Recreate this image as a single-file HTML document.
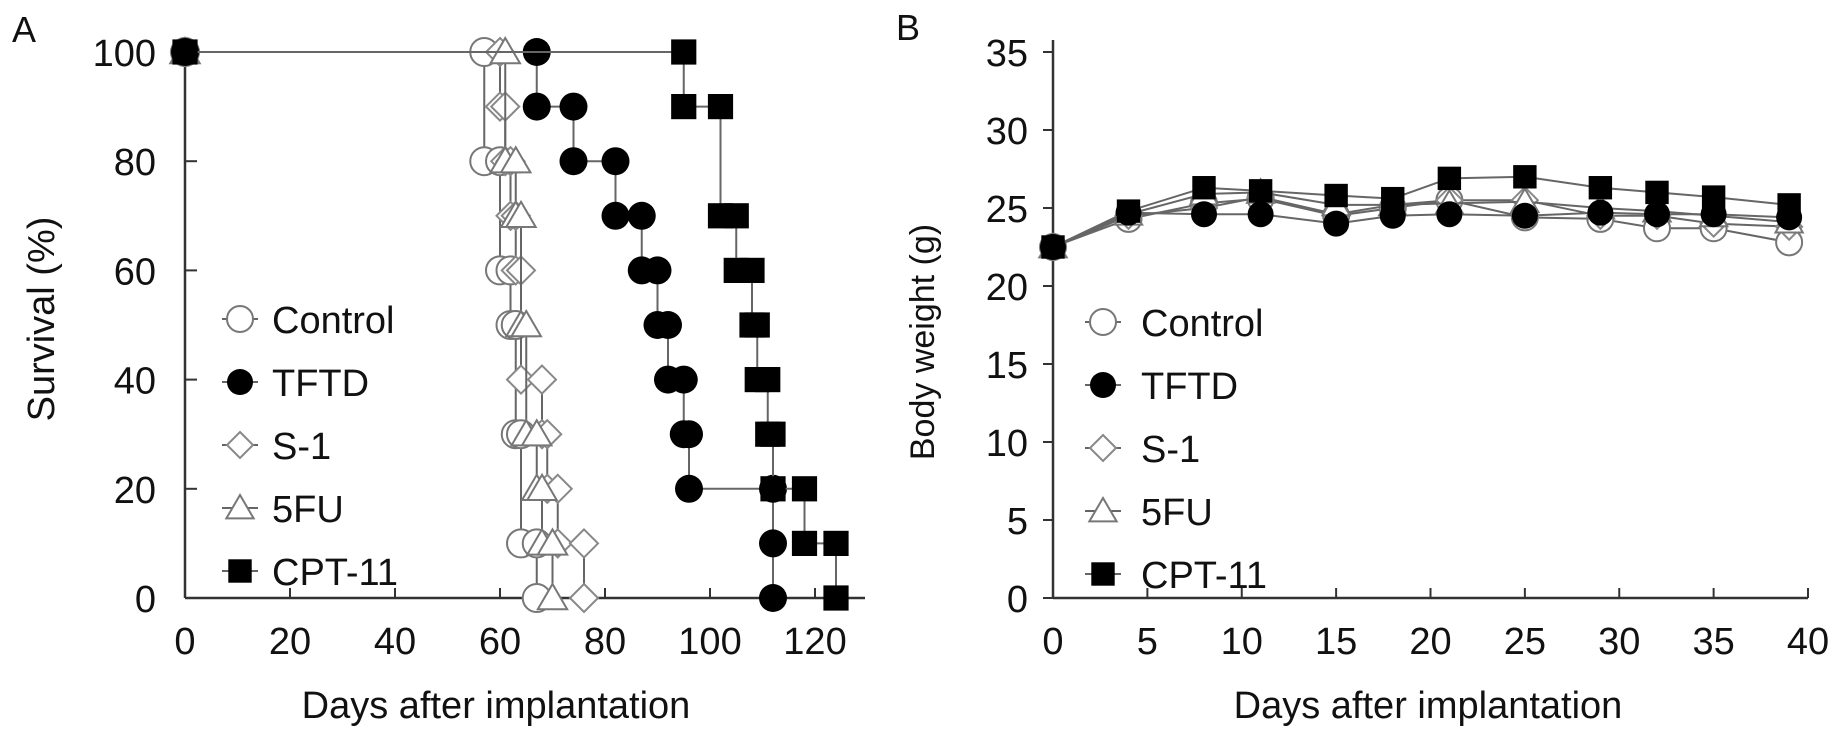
<!DOCTYPE html>
<html><head><meta charset="utf-8">
<style>
html,body{margin:0;padding:0;background:#fff;}
svg{display:block;font-family:"Liberation Sans",Arial,sans-serif;}
</style></head>
<body>
<svg id="fig" width="1842" height="736" viewBox="0 0 1842 736"></svg>
<script>
// ---- Panel A data (Kaplan-Meier corners: day, survival %) ----
const survControl = [[0,100],[57,100],[57,80],[60,80],[60,60],[62,60],[62,50],[63,50],[63,30],[64,30],[64,10],[67,10],[67,0]];
const survTFTD = [[0,100],[67,100],[67,90],[74,90],[74,80],[82,80],[82,70],[87,70],[87,60],[90,60],[90,50],[92,50],[92,40],[95,40],[95,30],[96,30],[96,20],[112,20],[112,10],[112,0]];
const survS1 = [[0,100],[60,100],[60,90],[61,90],[61,80],[62,80],[62,70],[63,70],[63,60],[64,60],[64,40],[68,40],[68,30],[69,30],[69,20],[71,20],[71,10],[76,10],[76,0]];
const surv5FU = [[0,100],[61,100],[61,80],[63,80],[63,70],[64,70],[64,50],[65,50],[65,30],[67,30],[67,20],[68,20],[68,10],[70,10],[70,0]];
const survCPT = [[0,100],[95,100],[95,90],[102,90],[102,70],[105,70],[105,60],[108,60],[108,50],[109,50],[109,40],[111,40],[111,30],[112,30],[112,20],[118,20],[118,10],[124,10],[124,0]];
const xTicksA = [0,20,40,60,80,100,120];
const yTicksA = [0,20,40,60,80,100];
// ---- Panel B data ----
const daysB = [0,4,8,11,15,18,21,25,29,32,35,39];
const bwControl = [22.5,24.3,25.3,25.6,24.5,25.0,25.5,24.4,24.3,23.7,23.7,22.8];
const bwTFTD = [22.5,24.7,24.6,24.6,24.0,24.5,24.6,24.5,24.7,24.6,24.6,24.4];
const bwS1 = [22.5,24.5,25.0,25.7,24.6,25.2,25.5,25.5,24.5,24.5,24.0,23.8];
const bw5FU = [22.5,24.6,25.9,26.0,25.2,25.2,25.3,25.4,25.0,24.8,24.5,24.1];
const bwCPT = [22.5,24.8,26.3,26.1,25.8,25.6,26.9,27.0,26.3,26.0,25.7,25.2];
const xTicksB = [0,5,10,15,20,25,30,35,40];
const yTicksB = [0,5,10,15,20,25,30,35];
const legendLabels = ["Control","TFTD","S-1","5FU","CPT-11"];
const legendKinds = ["circle","dot","diamond","triangle","square"];

const NS="http://www.w3.org/2000/svg";
const svg=document.getElementById('fig');
const FS=38;
function el(tag,attrs,parent){const e=document.createElementNS(NS,tag);for(const k in attrs)e.setAttribute(k,attrs[k]);(parent||svg).appendChild(e);return e;}
function txt(s,x,y,size,anchor,parent,rot){const t=el('text',{x:x,y:y,'font-size':size,'text-anchor':anchor||'middle',fill:'#111'},parent);if(rot)t.setAttribute('transform',`rotate(-90 ${x} ${y})`);t.textContent=s;return t;}

const xA=d=>185+d*5.25;
const yA=v=>598-v*5.46;
const xB=d=>1053+d*(1808-1053)/40;
const yB=v=>598-v*(598-52)/35;

function marker(kind,x,y,r,parent){
  if(kind==='circle')return el('circle',{cx:x,cy:y,r:r,fill:'#fff',stroke:'#777','stroke-width':2},parent);
  if(kind==='dot')return el('circle',{cx:x,cy:y,r:r,fill:'#000'},parent);
  if(kind==='diamond')return el('polygon',{points:`${x},${y-r} ${x+r},${y} ${x},${y+r} ${x-r},${y}`,fill:'#fff',stroke:'#888','stroke-width':2},parent);
  if(kind==='triangle')return el('polygon',{points:`${x},${y-r} ${x+r*1.05},${y+r*0.8} ${x-r*1.05},${y+r*0.8}`,fill:'#fff',stroke:'#777','stroke-width':2},parent);
  return el('rect',{x:x-r*0.9,y:y-r*0.9,width:r*1.8,height:r*1.8,fill:'#000'},parent);
}

// ===== Panel A =====
const gA=el('g',{});


txt('A',24,42,36,'middle',gA);
el('line',{x1:185,y1:40,x2:185,y2:598,stroke:'#333','stroke-width':2.5},gA);
el('line',{x1:185,y1:598,x2:865,y2:598,stroke:'#333','stroke-width':2.5},gA);
xTicksA.forEach(t=>{el('line',{x1:xA(t),y1:598,x2:xA(t),y2:588,stroke:'#333','stroke-width':2},gA);const l=txt(String(t),xA(t),654,FS,'middle',gA);});
yTicksA.forEach(t=>{el('line',{x1:185,y1:yA(t),x2:197,y2:yA(t),stroke:'#333','stroke-width':2},gA);const l=txt(String(t),156,yA(t)+14,FS,'end',gA);});
txt('Survival (%)',54,319,FS,'middle',gA,true);
txt('Days after implantation',496,718,FS,'middle',gA);
const seriesA=[[survControl,'circle','series-control'],[survS1,'diamond','series-s1'],[surv5FU,'triangle','series-5fu'],[survTFTD,'dot','series-tftd'],[survCPT,'square','series-cpt11']];
seriesA.forEach(([data,kind,name])=>{
  const g=el('g',{},gA);
  
  
  el('polyline',{points:data.map(p=>xA(p[0])+','+yA(p[1])).join(' '),fill:'none',stroke:'#666','stroke-width':2},g);
  data.forEach((p,i)=>{marker(kind,xA(p[0]),yA(p[1]),14,g);});
});
legendLabels.forEach((lab,i)=>{
  const g=el('g',{},gA);
  
  
  const y=319+i*63;
  el('line',{x1:222,y1:y,x2:258,y2:y,stroke:'#666','stroke-width':2},g);
  marker(legendKinds[i],240,y,13,g);
  txt(lab,272,y+14,FS,'start',g);
});

// ===== Panel B =====
const gB=el('g',{});


txt('B',908,40,36,'middle',gB);
el('line',{x1:1053,y1:40,x2:1053,y2:598,stroke:'#333','stroke-width':2.5},gB);
el('line',{x1:1053,y1:598,x2:1808,y2:598,stroke:'#333','stroke-width':2.5},gB);
xTicksB.forEach(t=>{el('line',{x1:xB(t),y1:598,x2:xB(t),y2:588,stroke:'#333','stroke-width':2},gB);const l=txt(String(t),xB(t),654,FS,'middle',gB);});
yTicksB.forEach(t=>{el('line',{x1:1053,y1:yB(t),x2:1043,y2:yB(t),stroke:'#333','stroke-width':2},gB);const l=txt(String(t),1028,yB(t)+14,FS,'end',gB);});
txt('Body weight (g)',934,342,34,'middle',gB,true);
txt('Days after implantation',1428,718,FS,'middle',gB);
const seriesB=[[bwControl,'circle','series-control'],[bwS1,'diamond','series-s1'],[bw5FU,'triangle','series-5fu'],[bwTFTD,'dot','series-tftd'],[bwCPT,'square','series-cpt11']];
seriesB.forEach(([data,kind,name])=>{
  const g=el('g',{},gB);
  
  
  el('polyline',{points:data.map((v,i)=>xB(daysB[i])+','+yB(v)).join(' '),fill:'none',stroke:'#666','stroke-width':2},g);
  data.forEach((v,i)=>marker(kind,xB(daysB[i]),yB(v),13,g));
});
legendLabels.forEach((lab,i)=>{
  const g=el('g',{},gB);
  
  
  const y=322+i*63;
  el('line',{x1:1085,y1:y,x2:1121,y2:y,stroke:'#666','stroke-width':2},g);
  marker(legendKinds[i],1103,y,13,g);
  txt(lab,1141,y+14,FS,'start',g);
});
</script>
</body></html>
